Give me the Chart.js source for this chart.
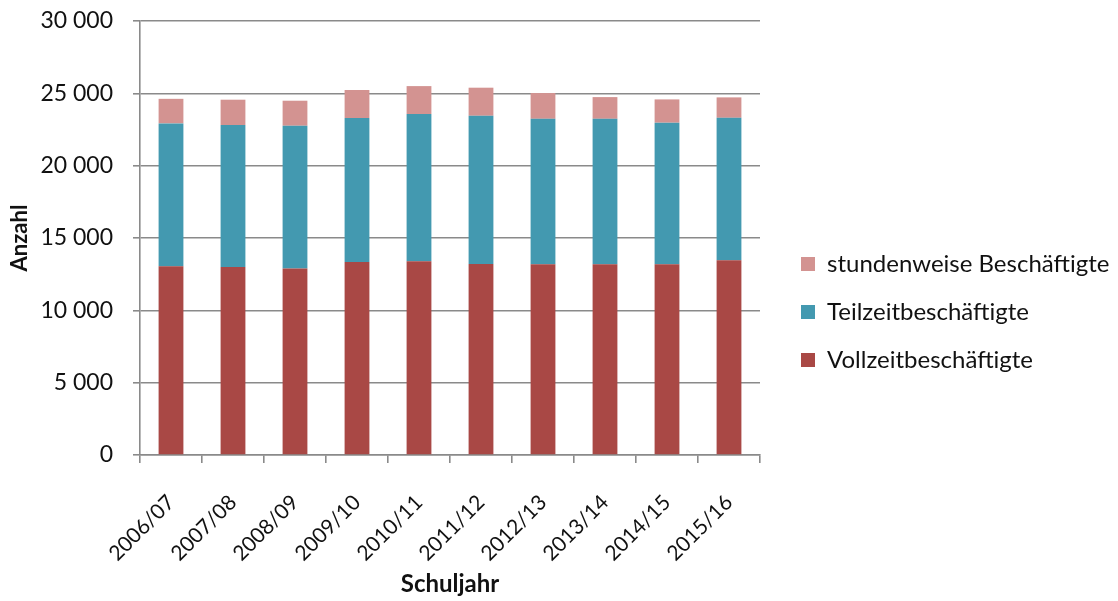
<!DOCTYPE html>
<html lang="de">
<head>
<meta charset="utf-8">
<title>Beschäftigte nach Schuljahr</title>
<script src="https://cdn.jsdelivr.net/npm/chart.js@4.4.1/dist/chart.umd.min.js"></script>
<style>
  html, body { margin: 0; padding: 0; background: #fff; }
  #wrap { width: 1118px; height: 601px; }
</style>
</head>
<body>
<div id="wrap"><canvas id="chart" width="1118" height="601"></canvas></div>
<script>
const schuljahre = ['2006/07', '2007/08', '2008/09', '2009/10', '2010/11', '2011/12', '2012/13', '2013/14', '2014/15', '2015/16'];
const vollzeit = [13050, 13000, 12900, 13340, 13390, 13200, 13180, 13180, 13180, 13460];
const teilzeit = [9870, 9810, 9860, 9950, 10180, 10250, 10060, 10060, 9790, 9850];
const stundenweise = [1700, 1750, 1730, 1940, 1930, 1940, 1780, 1500, 1610, 1410];
const yTicks = [0, 5000, 10000, 15000, 20000, 25000, 30000];

const fontFamily = 'Lato, "Open Sans", sans-serif';
const gridColor = '#8a8a8a';
const textColor = '#111';

// Tausender mit Leerzeichen: 30 000
function formatZahl(v) {
    return String(v).replace(/\B(?=(\d{3})+(?!\d))/g, ' ');
}

Chart.defaults.font.family = fontFamily;
Chart.defaults.color = textColor;

const ctx = document.getElementById('chart').getContext('2d');
new Chart(ctx, {
    type: 'bar',
    data: {
        labels: schuljahre,
        datasets: [
            { label: 'Vollzeitbeschäftigte', data: vollzeit, backgroundColor: '#a94845' },
            { label: 'Teilzeitbeschäftigte', data: teilzeit, backgroundColor: '#4399b0' },
            { label: 'stundenweise Beschäftigte', data: stundenweise, backgroundColor: '#d39391' }
        ]
    },
    options: {
        responsive: false,
        animation: false,
        devicePixelRatio: 1,
        datasets: { bar: { barPercentage: 0.4, categoryPercentage: 1.0, borderWidth: 0 } },
        layout: { padding: 0 },
        plugins: {
            tooltip: { enabled: false },
            legend: {
                position: 'right',
                reverse: true,
                maxWidth: 341,
                // leerer Titel schiebt die Einträge etwas nach unten
                title: { display: true, text: '', font: { size: 10 }, padding: { top: 0, bottom: 11 } },
                labels: {
                    boxWidth: 14,
                    boxHeight: 14,
                    padding: 24,
                    color: textColor,
                    font: { size: 24 }
                }
            }
        },
        scales: {
            x: {
                stacked: true,
                grid: { drawOnChartArea: false, color: gridColor, lineWidth: 1.6, tickLength: 8 },
                border: { color: gridColor, width: 1.6 },
                ticks: { maxRotation: 45, minRotation: 45, padding: 27, font: { size: 21 }, color: textColor },
                title: { display: true, text: 'Schuljahr', font: { size: 24, weight: 'bold' }, padding: { top: 0, bottom: 2 } },
                afterFit: scale => { scale.height = 146; }
            },
            y: {
                stacked: true,
                min: 0,
                max: 30000,
                afterBuildTicks: scale => { scale.ticks = yTicks.map(v => ({ value: v })); },
                grid: { color: gridColor, lineWidth: 1.6, tickLength: 7 },
                border: { color: gridColor, width: 1.6 },
                ticks: { padding: 20, font: { size: 23 }, color: textColor, callback: v => formatZahl(v) },
                title: { display: true, text: 'Anzahl', font: { size: 22, weight: 'bold' }, padding: { top: 7, bottom: 0 } },
                afterFit: scale => {
                    scale.width = 140;
                    scale.paddingTop = 21;
                }
            },
            // leerer Abstand zwischen Diagramm und Legende
            abstand: {
                type: 'linear',
                position: 'right',
                display: true,
                grid: { display: false },
                border: { display: false },
                ticks: { display: false },
                afterFit: scale => { scale.width = 17; }
            }
        }
    }
});
</script>
</body>
</html>
